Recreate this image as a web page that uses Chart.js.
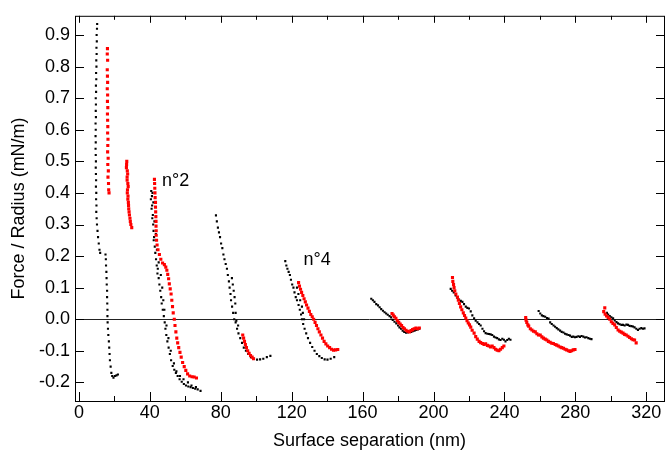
<!DOCTYPE html>
<html>
<head>
<meta charset="utf-8">
<script src="https://cdn.jsdelivr.net/npm/chart.js@4.4.1/dist/chart.umd.min.js"></script>
<style>
  html, body { margin: 0; padding: 0; background: #fff; }
</style>
</head>
<body>
<canvas id="forceChart" width="668" height="464"></canvas>
<script>
// -------------------------------
// DATA  (surface separation nm, force/radius mN/m)
// -------------------------------
const run1Black = [
  [10.3,0.935],[10.2,0.92],[10.0,0.90],[10.1,0.88],[9.9,0.86],[10.0,0.84],[9.8,0.82],[9.9,0.80],
  [9.7,0.78],[9.8,0.76],[9.6,0.74],[9.7,0.72],[9.5,0.70],[9.6,0.68],[9.5,0.66],[9.6,0.64],
  [9.4,0.62],[9.5,0.60],[9.4,0.58],[9.5,0.56],[9.4,0.54],[9.5,0.52],[9.6,0.50],[9.5,0.48],
  [9.6,0.46],[9.7,0.44],[9.6,0.42],[9.8,0.40],[9.7,0.38],[9.9,0.36],[9.8,0.34],[10.0,0.32],
  [10.2,0.30],[10.5,0.28],[10.8,0.26],[11.2,0.24],[11.6,0.22],[12.0,0.21],
  [15.0,0.205],[15.2,0.19],[15.3,0.17],[15.5,0.15],[15.6,0.13],[15.7,0.11],[15.9,0.09],[15.9,0.07],
  [16.0,0.05],[16.1,0.03],[16.1,0.01],[16.2,-0.01],[16.4,-0.03],[16.6,-0.05],[16.9,-0.07],[17.1,-0.09],
  [17.3,-0.11],[17.5,-0.13],[17.9,-0.15],[18.3,-0.17],[18.8,-0.18],[19.5,-0.185],[20.3,-0.18],[21.2,-0.178],[22.0,-0.175]
];
const run1Red = [
  [16.1,0.857],[16.0,0.84],[16.2,0.82],[16.0,0.79],[16.1,0.77],[16.2,0.75],[16.0,0.73],[16.2,0.71],
  [16.1,0.69],[16.3,0.67],[16.1,0.65],[16.2,0.63],[16.3,0.61],[16.2,0.59],[16.4,0.57],[16.3,0.55],
  [16.2,0.53],[16.5,0.51],[16.3,0.49],[16.6,0.47],[16.4,0.45],[16.7,0.43],[16.8,0.41],[17.0,0.40]
];
const run2Red = [
  [27.0,0.50],[26.9,0.49],[26.8,0.48],[27.3,0.47],[27.5,0.46],[27.2,0.45],[27.2,0.44],[27.6,0.43],
  [27.8,0.42],[27.4,0.41],[27.3,0.40],[27.7,0.39],[27.6,0.38],[27.9,0.37],[28.0,0.36],[28.1,0.35],
  [28.3,0.34],[28.5,0.33],[28.8,0.32],[29.0,0.31],[29.3,0.30],[29.8,0.29]
];
const run3Black = [
  [40.8,0.406],[41.2,0.39],[40.6,0.38],[41.3,0.36],[41.0,0.35],[41.7,0.33],[41.4,0.32],[41.9,0.30],
  [42.1,0.28],[42.4,0.26],[42.2,0.25],[42.8,0.23],[43.1,0.21],[43.5,0.19],[43.9,0.17],[44.5,0.16],
  [44.3,0.145],[45.0,0.13],[45.4,0.11],[45.9,0.09],[46.4,0.07],[46.7,0.05],[47.3,0.03],[47.9,0.01],
  [48.4,-0.01],[48.8,-0.03],[49.3,-0.05],[49.9,-0.07],[50.6,-0.09],[51.3,-0.11],[52.0,-0.13],[52.9,-0.148],
  [53.8,-0.16],[54.7,-0.17],[55.7,-0.18],[56.8,-0.19],[58.0,-0.198],[59.2,-0.205],[60.4,-0.21],[61.7,-0.213],
  [63.0,-0.215],[64.3,-0.218],[65.6,-0.22],[67.0,-0.222],[68.6,-0.227],
  [41.5,0.40],[42.0,0.37],[42.6,0.31],[43.4,0.27],[44.0,0.22],[45.0,0.18],[46.2,0.14],[47.0,0.10],
  [47.6,0.06],[48.2,0.03],[49.4,-0.02],[50.5,-0.06],[51.8,-0.10],[53.6,-0.14],[55.0,-0.165],[57.0,-0.18],
  [59.0,-0.19],[61.5,-0.20],[63.5,-0.21],[66.0,-0.215]
];
const run3Red = [
  [42.6,0.443],[42.7,0.43],[42.8,0.415],[42.9,0.40],[43.0,0.385],[43.2,0.37],[43.2,0.355],[43.3,0.34],
  [43.4,0.325],[43.5,0.31],[43.5,0.295],[43.6,0.28],[43.6,0.266],[43.8,0.25],[44.1,0.235],[44.6,0.22],
  [45.4,0.205],[46.2,0.19],[47.2,0.178],[48.2,0.173],[49.0,0.165],[49.6,0.155],[50.1,0.142],[50.6,0.128],
  [51.0,0.112],[51.5,0.096],[52.0,0.08],[52.4,0.06],[52.8,0.04],[53.2,0.02],[53.8,0.0],[54.2,-0.02],
  [54.7,-0.04],[55.2,-0.06],[55.7,-0.075],[56.3,-0.09],[57.0,-0.105],[57.7,-0.12],[58.5,-0.137],[59.4,-0.15],
  [60.3,-0.162],[61.3,-0.173],[62.5,-0.18],[63.8,-0.182],[65.0,-0.183],[66.3,-0.186]
];
const run4Black = [
  [77.3,0.329],[77.8,0.31],[78.4,0.29],[79.0,0.275],[79.6,0.26],[80.2,0.24],[80.9,0.225],[81.5,0.205],
  [82.1,0.19],[82.8,0.175],[83.5,0.16],[84.0,0.14],[84.6,0.12],[85.0,0.10],[85.5,0.08],[85.8,0.06],
  [86.4,0.04],[87.0,0.02],[87.6,0.0],[88.4,-0.01],[89.2,-0.03],[90.0,-0.045],[91.0,-0.06],[92.0,-0.075],
  [93.0,-0.09],[94.2,-0.10],[95.5,-0.11],[97.0,-0.12],[98.7,-0.125],[100.5,-0.128],[102.2,-0.127],[104.0,-0.125],
  [106.0,-0.12],[108.0,-0.116],
  [86.3,0.13],[86.8,0.11],[87.3,0.09],[87.8,0.07],[88.2,0.05],[88.4,0.02],[88.8,-0.005],[89.8,-0.02]
];
const run4Red = [
  [92.4,-0.05],[92.9,-0.06],[93.4,-0.07],[93.9,-0.08],[94.5,-0.09],[95.2,-0.10],[96.0,-0.108],[96.8,-0.115],
  [97.7,-0.12],[98.5,-0.125]
];
const run5Black = [
  [116.4,0.184],[117.0,0.17],[117.6,0.16],[118.3,0.15],[119.0,0.14],[119.6,0.125],[120.3,0.11],[121.0,0.10],
  [121.6,0.085],[122.3,0.07],[123.0,0.06],[123.9,0.045],[124.6,0.03],[125.3,0.015],[125.8,0.0],[126.5,-0.015],
  [127.3,-0.03],[128.2,-0.045],[129.2,-0.06],[130.4,-0.075],[131.6,-0.088],[132.9,-0.10],[134.2,-0.11],[135.6,-0.117],
  [137.0,-0.123],[138.6,-0.127],[140.2,-0.128],[142.0,-0.125],[144.0,-0.12],
  [123.0,0.10],[123.8,0.08],[124.8,0.06],[125.8,0.04],[126.3,0.02],[127.0,0.0]
];
const run5Red = [
  [123.9,0.116],[124.4,0.105],[125.0,0.095],[125.6,0.085],[126.3,0.075],[127.0,0.065],[127.7,0.055],[128.4,0.045],
  [129.2,0.035],[130.0,0.025],[130.8,0.015],[131.6,0.008],[132.4,0.0],[133.2,-0.01],[134.0,-0.02],[134.8,-0.03],
  [135.6,-0.04],[136.5,-0.05],[137.4,-0.06],[138.3,-0.07],[139.3,-0.078],[140.3,-0.085],[141.4,-0.09],[142.5,-0.095],
  [143.6,-0.098],[144.8,-0.097],[146.0,-0.096]
];
const run6Black = [
  [164.9,0.065],[165.8,0.06],[166.7,0.055],[167.7,0.048],[168.7,0.044],[169.6,0.038],[170.5,0.032],[171.5,0.027],
  [172.4,0.022],[173.3,0.018],[174.2,0.014],[175.2,0.01],[176.1,0.006],[177.0,-0.002],[178.0,-0.008],[179.0,-0.013],
  [180.0,-0.02],[180.8,-0.026],[181.7,-0.03],[182.6,-0.036],[183.5,-0.04],[184.5,-0.043],[185.5,-0.042],[186.4,-0.04],
  [187.4,-0.04],[188.3,-0.038],[189.3,-0.036],[190.2,-0.034],[191.1,-0.032],[192.0,-0.03]
];
const run6Red = [
  [176.6,0.018],[177.3,0.013],[178.0,0.008],[178.8,0.003],[179.6,-0.004],[180.4,-0.01],[181.2,-0.015],[182.0,-0.02],
  [182.8,-0.026],[183.6,-0.03],[184.5,-0.035],[185.4,-0.038],[186.4,-0.04],[187.3,-0.036],[188.2,-0.033],[189.1,-0.03],
  [190.1,-0.028],[191.0,-0.03],[192.0,-0.028]
];
const run7Black = [
  [209.7,0.096],[210.5,0.09],[211.4,0.085],[212.5,0.075],[213.4,0.068],[214.4,0.062],[215.4,0.058],[216.3,0.055],
  [217.2,0.048],[218.2,0.04],[219.1,0.036],[220.0,0.034],[221.0,0.025],[221.9,0.012],[222.9,0.003],[223.8,-0.005],
  [224.8,-0.01],[225.7,-0.015],[226.6,-0.02],[227.6,-0.03],[228.5,-0.038],[229.4,-0.044],[230.4,-0.046],[231.3,-0.047],
  [232.2,-0.048],[233.1,-0.05],[234.1,-0.055],[235.0,-0.058],[235.9,-0.06],[236.9,-0.064],[237.8,-0.066],[238.8,-0.062],
  [239.7,-0.065],[240.6,-0.07],[241.6,-0.066],[242.5,-0.062],[243.4,-0.065]
];
const run7Red = [
  [210.7,0.132],[210.9,0.12],[211.3,0.11],[211.6,0.10],[212.0,0.09],[212.6,0.08],[213.5,0.07],[214.0,0.06],
  [214.6,0.05],[215.3,0.039],[216.0,0.03],[216.8,0.02],[217.5,0.012],[218.2,0.004],[218.9,-0.005],[219.6,-0.012],
  [220.3,-0.018],[221.0,-0.025],[221.8,-0.035],[222.9,-0.044],[223.8,-0.055],[224.7,-0.063],[225.7,-0.07],[226.6,-0.074],
  [227.6,-0.077],[228.5,-0.08],[229.4,-0.078],[230.4,-0.083],[231.3,-0.085],[232.2,-0.088],[233.1,-0.085],[234.1,-0.09],
  [235.0,-0.095],[235.9,-0.098],[236.9,-0.10],[237.8,-0.095],[238.8,-0.09],[239.7,-0.085]
];
const run8Black = [
  [259.3,0.026],[260.2,0.018],[261.1,0.012],[262.0,0.01],[263.0,0.008],[264.0,0.004],[264.9,0.002],[265.8,-0.01],
  [266.7,-0.015],[267.7,-0.02],[268.6,-0.024],[269.5,-0.028],[270.4,-0.032],[271.4,-0.036],[272.3,-0.04],[273.3,-0.042],
  [274.2,-0.046],[275.1,-0.048],[276.1,-0.05],[277.0,-0.052],[278.0,-0.056],[278.9,-0.055],[279.8,-0.057],[280.7,-0.056],
  [281.7,-0.054],[282.6,-0.056],[283.5,-0.053],[284.5,-0.055],[285.4,-0.058],[286.3,-0.057],[287.3,-0.06],[288.2,-0.062],
  [289.1,-0.063]
];
const run8Red = [
  [252.0,0.005],[252.2,-0.003],[252.6,-0.01],[253.2,-0.018],[253.7,-0.022],[254.6,-0.03],[255.5,-0.034],[256.4,-0.038],
  [257.4,-0.04],[258.3,-0.046],[259.2,-0.05],[260.2,-0.05],[261.1,-0.056],[262.0,-0.06],[263.0,-0.063],[263.9,-0.066],
  [264.8,-0.07],[265.8,-0.073],[266.7,-0.076],[267.6,-0.077],[268.6,-0.08],[269.5,-0.082],[270.4,-0.085],[271.4,-0.088],
  [272.3,-0.09],[273.3,-0.092],[274.2,-0.095],[275.1,-0.097],[276.1,-0.10],[277.0,-0.102],[277.9,-0.10],[278.8,-0.097],
  [279.8,-0.096]
];
const run9Black = [
  [297.8,0.02],[298.5,0.015],[299.4,0.01],[300.3,0.006],[301.3,0.003],[302.2,-0.004],[303.2,-0.009],[304.1,-0.013],
  [305.0,-0.016],[306.0,-0.018],[306.9,-0.018],[307.8,-0.02],[308.8,-0.017],[309.7,-0.018],[310.6,-0.021],[311.6,-0.022],
  [312.5,-0.023],[313.4,-0.026],[314.4,-0.03],[315.3,-0.034],[316.2,-0.03],[317.2,-0.028],[318.1,-0.03],[319.0,-0.029]
];
const run9Red = [
  [296.6,0.036],[296.0,0.024],[296.8,0.016],[297.6,0.01],[298.5,0.006],[299.4,0.0],[300.3,-0.008],[301.2,-0.013],
  [302.2,-0.018],[303.1,-0.026],[304.1,-0.034],[305.0,-0.038],[305.9,-0.041],[306.9,-0.044],[307.8,-0.048],[308.7,-0.05],
  [309.7,-0.054],[310.6,-0.058],[311.6,-0.062],[312.5,-0.065],[313.4,-0.066],[314.3,-0.075]
];

const blackRuns = [run1Black, run3Black, run4Black, run5Black, run6Black, run7Black, run8Black, run9Black];
const redRuns = [run1Red, run2Red, run3Red, run4Red, run5Red, run6Red, run7Red, run8Red, run9Red];

// tick labels
const xTicks = [0, 40, 80, 120, 160, 200, 240, 280, 320];
const xMinor = [20, 60, 100, 140, 180, 220, 260, 300];
const yTicks = [-0.2, -0.1, 0.0, 0.1, 0.2, 0.3, 0.4, 0.5, 0.6, 0.7, 0.8, 0.9];

// curve labels
const notes = [
  { text: 'n°2', x: 46.9, y: 0.439 },
  { text: 'n°4', x: 126.7, y: 0.187 }
];

const FONT = "'Liberation Sans', Arial, sans-serif";
Chart.defaults.font.family = FONT;
Chart.defaults.font.size = 18;
Chart.defaults.color = '#000';

const toPts = arr => arr.map(p => ({ x: p[0], y: p[1] }));

const datasets = [];
redRuns.forEach(r => datasets.push({
  data: toPts(r),
  backgroundColor: '#ff0000',
  pointStyle: 'rect',
  pointRadius: 2.2,
  borderWidth: 0,
  order: 0
}));
blackRuns.forEach(r => datasets.push({
  data: toPts(r),
  backgroundColor: '#000',
  pointStyle: 'rect',
  pointRadius: 1.5,
  borderWidth: 0,
  order: 1
}));

// frame, inward ticks, zero line and curve labels
const framePlugin = {
  id: 'frame',
  beforeDatasetsDraw(chart) {
    const { ctx, chartArea: a, scales: { y } } = chart;
    const y0 = Math.floor(y.getPixelForValue(0)) + 0.5;
    ctx.save();
    ctx.strokeStyle = '#222';
    ctx.lineWidth = 1;
    ctx.beginPath();
    ctx.moveTo(a.left, y0);
    ctx.lineTo(a.right, y0);
    ctx.stroke();
    ctx.restore();
  },
  afterDraw(chart) {
    const { ctx, chartArea: a, scales: { x, y } } = chart;
    ctx.save();
    ctx.strokeStyle = '#000';
    ctx.lineWidth = 1;
    ctx.strokeRect(a.left + 0.5, a.top + 0.5, a.right - a.left, a.bottom - a.top);
    ctx.beginPath();
    xTicks.forEach(v => {
      const px = Math.round(x.getPixelForValue(v)) + 0.5;
      ctx.moveTo(px, a.bottom); ctx.lineTo(px, a.bottom - 9);
      ctx.moveTo(px, a.top); ctx.lineTo(px, a.top + 7);
    });
    xMinor.forEach(v => {
      const px = Math.round(x.getPixelForValue(v)) + 0.5;
      ctx.moveTo(px, a.bottom); ctx.lineTo(px, a.bottom - 5);
      ctx.moveTo(px, a.top); ctx.lineTo(px, a.top + 4);
    });
    yTicks.forEach(v => {
      const py = Math.round(y.getPixelForValue(v)) + 0.5;
      ctx.moveTo(a.left, py); ctx.lineTo(a.left + 9, py);
      ctx.moveTo(a.right, py); ctx.lineTo(a.right - 8, py);
    });
    ctx.stroke();

    ctx.fillStyle = '#000';
    ctx.font = '18px ' + FONT;
    ctx.textAlign = 'left';
    ctx.textBaseline = 'middle';
    notes.forEach(n => ctx.fillText(n.text, x.getPixelForValue(n.x), y.getPixelForValue(n.y)));
    ctx.restore();
  }
};

new Chart(document.getElementById('forceChart'), {
  type: 'scatter',
  data: { datasets },
  options: {
    responsive: false,
    animation: false,
    layout: { padding: { top: 8, left: 0, right: 0, bottom: 0 } },
    plugins: {
      legend: { display: false },
      tooltip: { enabled: false }
    },
    scales: {
      x: {
        type: 'linear',
        min: -2.2,
        max: 330,
        grid: { display: false, drawTicks: false },
        border: { display: false },
        afterBuildTicks: s => { s.ticks = xTicks.map(v => ({ value: v })); },
        afterFit: s => { s.height = 63; },
        ticks: { padding: 1, maxRotation: 0, callback: v => String(v) },
        title: {
          display: true,
          text: 'Surface separation (nm)',
          padding: { top: 0, bottom: 12 }
        }
      },
      y: {
        min: -0.259,
        max: 0.961,
        grid: { display: false, drawTicks: false },
        border: { display: false },
        afterBuildTicks: s => { s.ticks = yTicks.map(v => ({ value: v })); },
        afterFit: s => { s.width = 75; },
        ticks: { padding: 5, callback: v => v.toFixed(1) },
        title: {
          display: true,
          text: 'Force / Radius (mN/m)',
          padding: { top: 8, bottom: 0 }
        }
      }
    }
  },
  plugins: [framePlugin]
});
</script>
</body>
</html>
